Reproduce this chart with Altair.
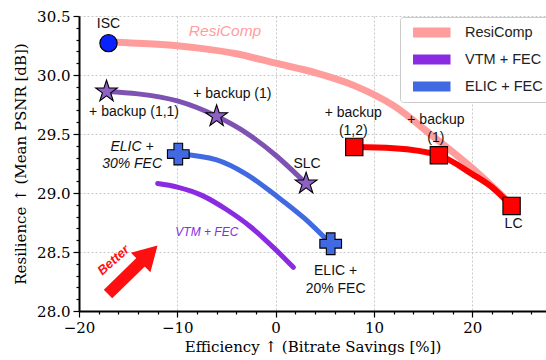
import altair as alt
import pandas as pd

# ---- curve data (x: bitrate savings [%], y: mean PSNR [dB]) ----
resicomp_x = [-17.0, -12.0, -8.0, -4.0, 0.0, 4.0, 8.0, 12.0, 16.0, 20.0, 24.0]
resicomp_y = [30.28, 30.26, 30.23, 30.18, 30.10, 30.02, 29.91, 29.74, 29.48, 29.21, 28.90]

vtm_fec_x = [-12.0, -10.0, -7.5, -5.0, -2.5, 0.0, 1.8]
vtm_fec_y = [29.08, 29.05, 28.98, 28.86, 28.71, 28.52, 28.37]

elic_fec_x = [-9.9, -6.0, -3.0, 0.0, 3.0, 5.6]
elic_fec_y = [29.33, 29.28, 29.16, 28.98, 28.78, 28.57]

backup_x = [-17.2, -14.0, -10.0, -6.0, -3.0, 0.0, 3.1]
backup_y = [29.86, 29.84, 29.78, 29.65, 29.51, 29.32, 29.08]

lc_x = [8.0, 12.0, 16.6, 20.0, 22.0, 24.0]
lc_y = [29.39, 29.38, 29.32, 29.16, 29.05, 28.89]

# ---- operating points ----
isc_x, isc_y = [-17.0], [30.27]
star_x = [-17.2, -6.0, 3.1]
star_y = [29.86, 29.65, 29.08]
plus_x = [-9.9, 5.6]
plus_y = [29.33, 28.57]
square_x = [8.0, 16.6, 24.0]
square_y = [29.39, 29.32, 28.89]

# ---- annotations ----
plain_text = ["ISC", "+ backup (1,1)", "+ backup (1)", "SLC",
              ["+ backup", "(1,2)"], ["+ backup", "(1)"], "LC", ["ELIC +", "20% FEC"]]
plain_x = [-17.0, -14.4, -4.4, 3.2, 7.9, 16.3, 24.2, 6.1]
plain_y = [30.43, 29.69, 29.84, 29.25, 29.68, 29.62, 28.735, 28.335]

arrow_x = [-17.05, -12.87]
arrow_y = [28.144, 28.483]

# ---- axis ticks (major + minor) ----
x_ticks = list(range(-20, 27, 2))
y_ticks = [round(28.0 + 0.1 * i, 1) for i in range(26)]

series_names = ["ResiComp", "VTM + FEC", "ELIC + FEC", "backup", "lc"]
series_colors = ["#ff9d9d", "#8a2be2", "#4169e1", "#7e52b3", "#ff0000"]

SANS = "Liberation Sans"
SERIF = "DejaVu Serif"

# five-pointed star as a unit SVG path
STAR = ("M0,-1 L0.2245,-0.309 L0.951,-0.309 L0.3633,0.118 L0.588,0.809 L0,0.382 "
        "L-0.588,0.809 L-0.3633,0.118 L-0.951,-0.309 L-0.2245,-0.309 Z")
# wide horizontal bar used as the legend swatch
SWATCH = "M-1,0 L4,0"

xscale = alt.Scale(domain=[-20, 27.5], nice=False, zero=False)
yscale = alt.Scale(domain=[28.0, 30.5], nice=False, zero=False)
cscale = alt.Scale(domain=series_names, range=series_colors)

X_MAJOR = "datum.value % 10 === 0"
Y_MAJOR = "abs(datum.value * 2 - round(datum.value * 2)) < 1e-6"

x_axis = alt.Axis(values=x_ticks, format="d", grid=True,
                  labelOverlap=False, labelFlush=False,
                  labelExpr=f"{X_MAJOR} ? format(datum.value, 'd') : ''",
                  tickSize={"condition": {"test": X_MAJOR, "value": 6}, "value": 3},
                  gridOpacity={"condition": {"test": X_MAJOR, "value": 1}, "value": 0})
y_axis = alt.Axis(values=y_ticks, format=".1f", grid=True,
                  labelOverlap=False, labelFlush=False,
                  labelExpr=f"{Y_MAJOR} ? format(datum.value, '.1f') : ''",
                  tickSize={"condition": {"test": Y_MAJOR, "value": 6}, "value": 3},
                  gridOpacity={"condition": {"test": Y_MAJOR, "value": 1}, "value": 0})
x_title = "Efficiency ↑ (Bitrate Savings [%])"
y_title = "Resilience ↑ (Mean PSNR [dB])"


def xy():
    return dict(
        x=alt.X("x:Q", scale=xscale, axis=x_axis, title=x_title),
        y=alt.Y("y:Q", scale=yscale, axis=y_axis, title=y_title),
    )


def curve(name, xs, ys, width):
    df = pd.DataFrame({"x": xs, "y": ys, "series": name})
    return alt.Chart(df).mark_line(
        strokeWidth=width, strokeCap="round", interpolate="monotone"
    ).encode(
        **xy(),
        color=alt.Color(
            "series:N", scale=cscale,
            legend=alt.Legend(
                values=series_names[:3], title=None, orient="none",
                legendX=321, legendY=1, symbolType=SWATCH,
                symbolStrokeWidth=10, symbolSize=225, clipHeight=15,
                labelFont=SANS, labelFontSize=14.5, labelColor="#222",
                rowPadding=11, padding=8, strokeColor="#cccccc",
                fillColor="white", cornerRadius=3, labelOffset=32,
            ),
        ),
    )


def points(xs, ys, shape, size, fill):
    df = pd.DataFrame({"x": xs, "y": ys})
    return alt.Chart(df).mark_point(
        shape=shape, size=size, filled=True, fill=fill,
        stroke="black", strokeWidth=1.1, opacity=1,
    ).encode(**xy())


def label(xs, ys, texts, **style):
    df = pd.DataFrame({"x": xs, "y": ys, "t": texts})
    return alt.Chart(df).mark_text(baseline="middle", **style).encode(**xy(), text="t")


layers = [
    curve("ResiComp", resicomp_x, resicomp_y, 7),
    curve("lc", lc_x, lc_y, 6),
    curve("VTM + FEC", vtm_fec_x, vtm_fec_y, 5),
    curve("ELIC + FEC", elic_fec_x, elic_fec_y, 5),
    curve("backup", backup_x, backup_y, 5),
    points(isc_x, isc_y, "circle", 300, "#0a22ff"),
    points(star_x, star_y, STAR, 520, "#8d62c4"),
    points(plus_x, plus_y, "cross", 470, "#4169e1"),
    points(square_x, square_y, "square", 300, "#ff0000"),
    label(plain_x, plain_y, plain_text, font=SANS, fontSize=14, color="#111", lineHeight=18),
    label([-14.6], [29.39], [["ELIC +", "30% FEC"]], font=SANS, fontSize=14,
          fontStyle="italic", color="#111", lineHeight=17),
    label([-5.15], [30.37], ["ResiComp"], font=SANS, fontSize=15.5,
          fontStyle="italic", color="#ff9d9d"),
    label([-7.0], [28.67], ["VTM + FEC"], font=SANS, fontSize=12,
          fontStyle="italic", color="#8a2be2"),
]

# "Better" arrow
df_arrow = pd.DataFrame({"x": arrow_x, "y": arrow_y})
layers.append(alt.Chart(df_arrow).mark_line(color="#ff0f0f", strokeWidth=12, strokeCap="butt").encode(**xy()))
layers.append(alt.Chart(df_arrow.iloc[[-1]]).mark_point(
    shape="triangle-up", size=760, filled=True, color="#ff0f0f", angle=45, opacity=1
).encode(**xy()))
layers.append(label([-16.5], [28.43], ["Better"], font=SANS, fontSize=13, fontStyle="italic",
                    fontWeight="bold", color="#ff0f0f", angle=318))

chart = alt.layer(*layers).properties(
    width=467, height=295,
    autosize=alt.AutoSizeParams(type="none"),
    padding={"left": 79, "top": 16, "right": 0, "bottom": 49},
).configure_view(stroke=None).configure_axis(
    domainColor="black", domainWidth=2, tickColor="black", tickWidth=1.2,
    labelFont=SERIF, labelFontSize=15, labelColor="black", labelPadding=3,
    labelOverlap=False, labelFlush=False,
    titleFont=SERIF, titleFontSize=15, titleFontWeight="normal", titleColor="black",
    gridColor="#bbbbbb", gridDash=[2, 2], gridWidth=0.8,
).configure_axisX(titlePadding=4).configure_axisY(titlePadding=8)

chart.save("out.html", embed_options={"renderer": "svg", "actions": False})
